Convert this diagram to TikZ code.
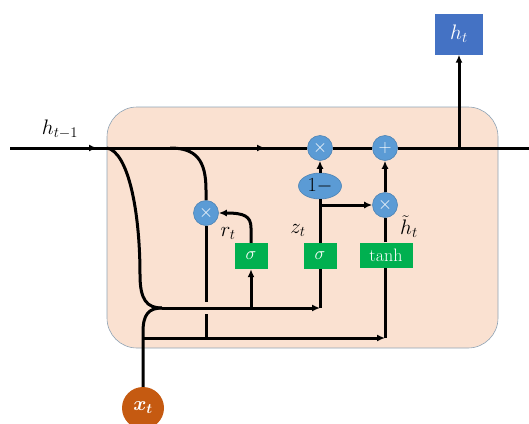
\documentclass[tikz,border=0pt]{standalone}
\usepackage{fix-cm}
\usepackage{amsmath,bm}
\usetikzlibrary{arrows.meta,shapes.geometric}
\definecolor{cellfill}{HTML}{FAE1D1}
\definecolor{cellborder}{HTML}{8FA3B5}
\definecolor{opblue}{HTML}{5B9BD5}
\definecolor{gategreen}{HTML}{00B050}
\definecolor{htblue}{HTML}{4472C4}
\definecolor{xtorange}{HTML}{C55A11}
\begin{document}
\begin{tikzpicture}[x=1pt,y=-1pt,
  wire/.style={line width=3pt, black},
  tip/.style={-{Latex[length=8pt,width=7pt]}},
  op/.style={circle, fill=opblue, draw=opblue!85!black, line width=0.6pt, minimum size=25pt, inner sep=0pt, text=white, font=\fontsize{18}{20}\selectfont},
  gate/.style={rectangle, fill=gategreen, minimum width=33pt, minimum height=26pt, inner sep=0pt, text=white, font=\fontsize{18}{20}\selectfont},
  lab/.style={font=\fontsize{21}{23}\selectfont, inner sep=0pt}]
\useasboundingbox (0,0) rectangle (529,423);
\path[fill=cellfill, draw=cellborder, line width=0.6pt, rounded corners=30pt] (107,107) rectangle (498,348);

\node[op] (mz) at (320,148) {$\times$};
\node[op] (plus) at (385,148) {$+$};
\node[ellipse, fill=opblue, draw=opblue!85!black, line width=0.6pt, minimum width=43pt, minimum height=26pt, inner sep=0pt, font=\fontsize{20}{22}\selectfont] (one) at (320,186) {$1-$};
\node[op] (mh) at (385,205) {$\times$};
\node[op] (mr) at (206,213) {$\times$};
\node[gate] (sr) at (251,256) {$\sigma$};
\node[gate] (sz) at (320,256) {$\sigma$};
\node[gate, minimum width=53pt, minimum height=25pt] (th) at (386,255) {tanh};
\node[rectangle, fill=htblue, minimum width=48pt, minimum height=41pt, text=white, font=\fontsize{21}{23}\selectfont] (ht) at (459,34) {$h_t$};
\node[circle, fill=xtorange, minimum size=42pt, inner sep=0pt, text=white, font=\fontsize{20}{22}\selectfont] (xt) at (143,408) {$\bm{x_t}$};

\node[lab] (lhprev) at (60,129) {$h_{t-1}$};
\node[lab, anchor=south] (lr) at (228,240) {$r_t$};
\node[lab, anchor=south] (lz) at (298,237) {$z_t$};
\node[lab, anchor=south] (lh) at (409,238) {$\tilde{h}_t$};

\coordinate (L) at (10,148);
\coordinate (R) at (529,148);
\coordinate (a1b) at (85,148);
\coordinate (a1) at (97,148);
\coordinate (a2b) at (250,148);
\coordinate (a2) at (265,148);
\coordinate (c1) at (107,148);
\coordinate (c2) at (170,148);
\coordinate (m) at (162,308);
\coordinate (rg) at (251,308);
\coordinate (zc) at (320,308);
\coordinate (b0) at (143,338);
\coordinate (bc) at (385,338);
\coordinate (gapT) at (206,302);
\coordinate (gapB) at (206,314);
\coordinate (rb) at (206,338);
\coordinate (zb) at (320,205);
\coordinate (hb) at (459,148);

% main line
\draw[wire] (L) -- (mz.west);
\draw[wire,tip] (a1b) -- (a1);
\draw[wire,tip] (a2b) -- (a2);
\draw[wire] (mz.east) -- (plus.west);
\draw[wire] (plus.east) -- (R);
\draw[wire,tip] (hb) -- (ht.south);

% left curve into merge
\draw[wire] (c1) .. controls (128,152) and (140,210) .. (140,275) .. controls (140,300) and (147,308) .. (m);
% x_t up and into merge
\draw[wire] (xt.north) -- (143,332) .. controls (143,314) and (149,308) .. (m);
% merge line to z gate
\draw[wire,tip] (m) -- (zc);
\draw[wire] (zc) -- (sz.south);
\draw[wire,tip] (rg) -- (sr.south);
% bottom line to tanh
\draw[wire,tip] (b0) -- (bc);
\draw[wire] (bc) -- (bc |- th.south);

% reset branch
\draw[wire] (c2) .. controls (196,148) and (206,160) .. (206,190) -- (mr.north);
\draw[wire] (mr.south) -- (gapT);
\draw[wire] (gapB) -- (rb);
\draw[wire,tip] (sr.north) -- (251,228) .. controls (251,216) and (244,213) .. (mr.east);

% update gate
\draw[wire] (sz.north) -- (one.south);
\draw[wire,tip] (one.north) -- (mz.south);
\draw[wire,tip] (zb) -- (mh.west);

% candidate
\draw[wire] (mh.south |- th.north) -- (mh.south);
\draw[wire,tip] (mh.north) -- (plus.south);
\end{tikzpicture}
\end{document}
